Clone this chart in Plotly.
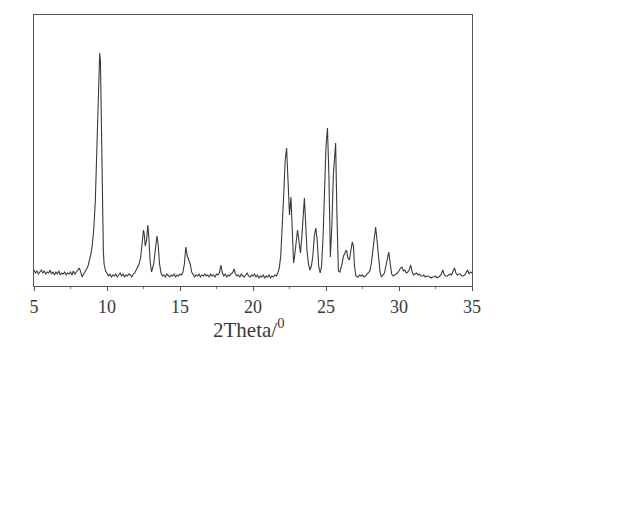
import plotly.graph_objects as go

# XRD pattern (intensity in arbitrary units)
two_theta = [
    5.0, 5.1, 5.2, 5.3, 5.4, 5.5, 5.6, 5.7, 5.8, 5.9,
    6.0, 6.1, 6.2, 6.3, 6.4, 6.5, 6.6, 6.7, 6.8, 6.9,
    7.0, 7.1, 7.2, 7.3, 7.4, 7.5, 7.6, 7.7, 7.8, 7.9,
    8.0, 8.1, 8.2, 8.3, 8.4, 8.5, 8.6, 8.7, 8.8, 8.9,
    9.0, 9.1, 9.2, 9.3, 9.4, 9.5, 9.55, 9.6, 9.65, 9.7, 9.75, 9.8, 9.9,
    10.0, 10.1, 10.2, 10.3, 10.4, 10.5, 10.6, 10.7, 10.8, 10.9,
    11.0, 11.1, 11.2, 11.3, 11.4, 11.5, 11.6, 11.7, 11.8, 11.9,
    12.0, 12.1, 12.2, 12.3, 12.4, 12.5, 12.55, 12.62, 12.7, 12.8, 12.88, 12.95,
    13.05, 13.1, 13.2, 13.3, 13.42, 13.5, 13.6, 13.7, 13.8, 13.9,
    14.0, 14.1, 14.2, 14.3, 14.4, 14.5, 14.6, 14.7, 14.8, 14.9,
    15.0, 15.1, 15.2, 15.3, 15.4, 15.5, 15.6, 15.7, 15.8, 15.9,
    16.0, 16.1, 16.2, 16.3, 16.4, 16.5, 16.6, 16.7, 16.8, 16.9,
    17.0, 17.1, 17.2, 17.3, 17.4, 17.5, 17.6, 17.7, 17.8, 17.9,
    18.0, 18.1, 18.2, 18.3, 18.4, 18.5, 18.6, 18.7, 18.8, 18.9,
    19.0, 19.1, 19.2, 19.3, 19.4, 19.5, 19.6, 19.7, 19.8, 19.9,
    20.0, 20.1, 20.2, 20.3, 20.4, 20.5, 20.6, 20.7, 20.8, 20.9,
    21.0, 21.1, 21.2, 21.3, 21.4, 21.5, 21.6, 21.7, 21.8, 21.9,
    22.0, 22.1, 22.2, 22.3, 22.4, 22.5, 22.6, 22.7, 22.78, 22.85, 22.95,
    23.05, 23.12, 23.25, 23.35, 23.45, 23.52, 23.6, 23.7, 23.8, 23.9,
    24.0, 24.1, 24.2, 24.3, 24.4, 24.5, 24.6, 24.7, 24.8, 24.9,
    25.0, 25.1, 25.2, 25.3, 25.4, 25.5, 25.6, 25.66, 25.75, 25.85, 25.95,
    26.0, 26.1, 26.2, 26.3, 26.4, 26.5, 26.6, 26.7, 26.8, 26.88, 26.95,
    27.05, 27.2, 27.3, 27.4, 27.5, 27.6, 27.7, 27.8, 27.9,
    28.0, 28.1, 28.2, 28.3, 28.4, 28.5, 28.6, 28.7, 28.8, 28.9,
    29.0, 29.1, 29.2, 29.3, 29.4, 29.5, 29.6, 29.7, 29.8, 29.9,
    30.0, 30.1, 30.2, 30.3, 30.4, 30.5, 30.6, 30.7, 30.8, 30.9,
    31.0, 31.1, 31.2, 31.3, 31.4, 31.5, 31.6, 31.7, 31.8, 31.9,
    32.0, 32.1, 32.2, 32.3, 32.4, 32.5, 32.6, 32.7, 32.8, 32.9,
    33.0, 33.1, 33.2, 33.3, 33.4, 33.5, 33.6, 33.7, 33.8, 33.9,
    34.0, 34.1, 34.2, 34.3, 34.4, 34.5, 34.6, 34.7, 34.8, 34.9, 35.0,
]
intensity = [
    16, 13, 15, 12, 14, 16, 13, 15, 12, 14,
    13, 16, 12, 14, 11, 14, 12, 15, 11, 13,
    12, 14, 11, 13, 12, 14, 11, 15, 12, 14,
    17, 18, 14, 9, 12, 14, 17, 20, 25, 32,
    42, 58, 85, 130, 190, 233, 225, 170, 110, 60, 35, 22, 15,
    13, 10, 12, 9, 11, 10, 12, 9, 11, 13,
    10, 12, 9, 11, 10, 12, 11, 9, 12, 13,
    16, 19, 22, 28, 40, 56, 52, 40, 45, 61, 45, 25,
    14, 18, 22, 35, 50, 42, 22, 13, 10, 11,
    9, 12, 10, 9, 11, 10, 12, 9, 11, 10,
    12, 11, 14, 22, 39, 30, 26, 22, 14, 11,
    9, 11, 10, 12, 9, 11, 10, 12, 10, 11,
    9, 12, 10, 11, 9, 12, 11, 13, 21, 13,
    10, 12, 9, 11, 10, 12, 13, 17, 12, 10,
    11, 9, 12, 10, 9, 11, 13, 10, 9, 11,
    10, 12, 9, 11, 8, 10, 9, 11, 8, 10,
    9, 11, 8, 10, 9, 11, 10, 13, 18, 30,
    55, 90, 125, 138, 105, 71, 89, 60, 23, 30, 45,
    56, 48, 33, 50, 80, 88, 65, 35, 22, 16,
    20, 30, 50, 58, 45, 20, 13, 20, 50, 100,
    140, 158, 110, 29, 60, 110, 130, 143, 70, 15, 14,
    16, 22, 30, 34, 36, 28, 26, 35, 44, 40, 20,
    10, 9, 11, 10, 11, 9, 10, 12, 13,
    15, 22, 35, 50, 59, 45, 25, 14, 9, 11,
    13, 20, 28, 34, 22, 12, 10, 11, 12, 13,
    15, 18, 19, 15, 16, 13, 14, 16, 21, 14,
    11, 12, 13, 11, 12, 10, 10, 11, 9, 10,
    10, 9, 8, 9, 9, 10, 8, 9, 10, 12,
    16, 11, 10, 10, 11, 12, 11, 15, 18, 13,
    11, 12, 12, 10, 10, 11, 13, 16, 12, 14, 13,
]

fig = go.Figure()
fig.add_trace(go.Scatter(
    x=two_theta, y=intensity, mode="lines",
    line=dict(color="#3a3a3a", width=1.1),
    showlegend=False,
))

# the page has an 8px body margin, so the figure is shrunk by 8
fig.update_layout(
    width=632, height=504,
    margin=dict(l=26, r=168, t=7, b=226),
    paper_bgcolor="white",
    plot_bgcolor="white",
    font=dict(family="Liberation Serif, Times New Roman, serif", size=18, color="#3a3a3a"),
    xaxis=dict(
        range=[5, 35], dtick=5, tick0=5,
        showgrid=False, zeroline=False,
        showline=True, linecolor="#555", linewidth=1, mirror=True,
        ticks="outside", ticklen=4, tickcolor="#555",
        minor=dict(dtick=2.5, ticks="outside", ticklen=2, tickcolor="#777"),
    ),
    yaxis=dict(
        range=[0, 271],
        showgrid=False, zeroline=False, showticklabels=False,
        showline=True, linecolor="#555", linewidth=1, mirror=True,
        ticks="",
    ),
    annotations=[dict(
        text="2Theta/<sup>0</sup>", xref="paper", yref="paper",
        x=0.49, y=-0.155, showarrow=False,
        font=dict(size=21, color="#3a3a3a"),
        xanchor="center", yanchor="middle",
    )],
)

fig.write_html("out.html")
